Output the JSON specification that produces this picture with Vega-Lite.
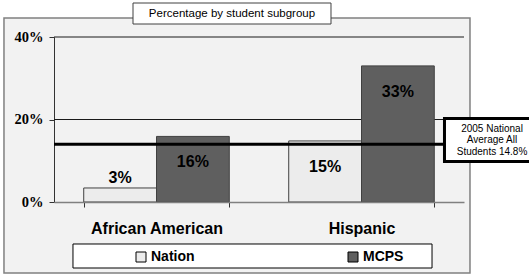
{
  "$schema": "https://vega.github.io/schema/vega-lite/v6.json",
  "width": 410,
  "height": 165,
  "autosize": {"type": "none"},
  "padding": {"left": 54, "top": 37, "right": 65, "bottom": 73},
  "background": "#f2f2f2",
  "config": {
    "view": {"stroke": null},
    "font": "Liberation Sans",
    "axisY": {
      "labelFont": "Liberation Serif", "labelFontSize": 14.5, "labelFontWeight": "bold", "labelColor": "black",
      "labelPadding": 6, "tickSize": 5, "tickColor": "#333333", "domainColor": "#333333", "grid": false, "zindex": 1
    }
  },
  "data": {
    "values": [
      {"group": "African American", "series": "Nation", "value": 0.034},
      {"group": "African American", "series": "MCPS", "value": 0.159},
      {"group": "Hispanic", "series": "Nation", "value": 0.148},
      {"group": "Hispanic", "series": "MCPS", "value": 0.33}
    ]
  },
  "layer": [
    {
      "data": {"values": [{}]},
      "layer": [
        {
          "mark": {"type": "rect", "fill": "white", "clip": false},
          "encoding": {
            "x": {"datum": -0.2, "type": "quantitative", "scale": {"domain": [0, 1], "nice": false, "zero": false}, "axis": null},
            "x2": {"datum": 1.3},
            "y": {"datum": 0.446, "type": "quantitative", "scale": {"domain": [0, 0.4], "nice": false}, "axis": {"title": null, "values": [0, 0.2, 0.4], "format": ".0%"}},
            "y2": {"datum": 0.6}
          }
        },
        {
          "mark": {"type": "rect", "fill": "white", "clip": false},
          "encoding": {
            "x": {"datum": -0.2, "type": "quantitative", "scale": {"domain": [0, 1], "nice": false, "zero": false}, "axis": null},
            "x2": {"datum": 1.3},
            "y": {"datum": -0.1721, "type": "quantitative", "scale": {"domain": [0, 0.4], "nice": false}, "axis": {"title": null, "values": [0, 0.2, 0.4], "format": ".0%"}},
            "y2": {"datum": -0.3}
          }
        },
        {
          "mark": {"type": "rect", "fill": "white", "clip": false},
          "encoding": {
            "x": {"datum": -0.2, "type": "quantitative", "scale": {"domain": [0, 1], "nice": false, "zero": false}, "axis": null},
            "x2": {"datum": -0.122},
            "y": {"datum": -0.3, "type": "quantitative", "scale": {"domain": [0, 0.4], "nice": false}, "axis": {"title": null, "values": [0, 0.2, 0.4], "format": ".0%"}},
            "y2": {"datum": 0.6}
          }
        },
        {
          "mark": {"type": "rect", "fill": "white", "clip": false},
          "encoding": {
            "x": {"datum": 1.0146, "type": "quantitative", "scale": {"domain": [0, 1], "nice": false, "zero": false}, "axis": null},
            "x2": {"datum": 1.3},
            "y": {"datum": -0.3, "type": "quantitative", "scale": {"domain": [0, 0.4], "nice": false}, "axis": {"title": null, "values": [0, 0.2, 0.4], "format": ".0%"}},
            "y2": {"datum": 0.6}
          }
        },
        {
          "mark": {"type": "rect", "filled": false, "stroke": "#808080", "strokeWidth": 1.5, "clip": false},
          "encoding": {
            "x": {"datum": -0.122, "type": "quantitative", "scale": {"domain": [0, 1], "nice": false, "zero": false}, "axis": null},
            "x2": {"datum": 1.0146},
            "y": {"datum": 0.446, "type": "quantitative", "scale": {"domain": [0, 0.4], "nice": false}, "axis": {"title": null, "values": [0, 0.2, 0.4], "format": ".0%"}},
            "y2": {"datum": -0.1721}
          }
        },
        {
          "mark": {"type": "rule", "color": "#1a1a1a", "strokeWidth": 1},
          "encoding": {
            "y": {"datum": 0.2, "type": "quantitative", "scale": {"domain": [0, 0.4], "nice": false}, "axis": {"title": null, "values": [0, 0.2, 0.4], "format": ".0%"}}
          }
        },
        {
          "mark": {"type": "rule", "color": "#1a1a1a", "strokeWidth": 1},
          "encoding": {
            "y": {"datum": 0.4, "type": "quantitative", "scale": {"domain": [0, 0.4], "nice": false}, "axis": {"title": null, "values": [0, 0.2, 0.4], "format": ".0%"}}
          }
        },
        {
          "mark": {"type": "rect", "fill": "white", "stroke": "#404040", "strokeWidth": 1, "clip": false},
          "encoding": {
            "x": {"datum": 0.1927, "type": "quantitative", "scale": {"domain": [0, 1], "nice": false, "zero": false}, "axis": null},
            "x2": {"datum": 0.6756},
            "y": {"datum": 0.4824, "type": "quantitative", "scale": {"domain": [0, 0.4], "nice": false}, "axis": {"title": null, "values": [0, 0.2, 0.4], "format": ".0%"}},
            "y2": {"datum": 0.4315}
          }
        },
        {
          "mark": {"type": "text", "text": "Percentage by student subgroup", "fontSize": 11.5, "font": "Liberation Sans", "color": "black", "align": "center", "baseline": "middle", "clip": false},
          "encoding": {
            "x": {"datum": 0.4341, "type": "quantitative", "scale": {"domain": [0, 1], "nice": false, "zero": false}, "axis": null},
            "y": {"datum": 0.4565, "type": "quantitative", "scale": {"domain": [0, 0.4], "nice": false}, "axis": {"title": null, "values": [0, 0.2, 0.4], "format": ".0%"}}
          }
        },
        {
          "mark": {"type": "rect", "fill": "white", "stroke": "black", "strokeWidth": 1, "clip": false},
          "encoding": {
            "x": {"datum": 0.0463, "type": "quantitative", "scale": {"domain": [0, 1], "nice": false, "zero": false}, "axis": null},
            "x2": {"datum": 0.922},
            "y": {"datum": -0.1018, "type": "quantitative", "scale": {"domain": [0, 0.4], "nice": false}, "axis": {"title": null, "values": [0, 0.2, 0.4], "format": ".0%"}},
            "y2": {"datum": -0.16}
          }
        }
      ]
    },
    {
      "encoding": {
        "x": {
          "field": "group", "type": "nominal", "sort": ["African American", "Hispanic"],
          "scale": {"paddingInner": 0.29, "paddingOuter": 0.145},
          "axis": {
            "title": null, "labelAngle": 0, "labelFont": "Liberation Sans", "labelFontSize": 16, "labelFontWeight": "bold",
            "labelColor": "black", "labelPadding": 13, "tickBand": "extent", "tickColor": "#333333", "tickSize": 5,
            "domainColor": "#808080", "domainWidth": 1.5, "zindex": 1
          }
        },
        "xOffset": {"field": "series", "type": "nominal", "sort": ["Nation", "MCPS"], "scale": {"paddingInner": 0, "paddingOuter": 0}},
        "y": {
          "field": "value", "type": "quantitative",
          "scale": {"domain": [0, 0.4], "nice": false},
          "axis": {"title": null, "values": [0, 0.2, 0.4], "format": ".0%"}
        }
      },
      "layer": [
        {
          "mark": {"type": "bar", "stroke": "#404040", "strokeWidth": 1},
          "encoding": {
            "color": {
              "field": "series", "type": "nominal",
              "scale": {"domain": ["Nation", "MCPS"], "range": ["#ececec", "#5f5f5f"]},
              "legend": {
                "orient": "none", "legendX": 80, "legendY": 213, "direction": "horizontal", "title": null,
                "symbolType": "square", "symbolSize": 100, "symbolStrokeColor": "black", "symbolStrokeWidth": 1,
                "labelFont": "Liberation Sans", "labelFontSize": 14, "labelFontWeight": "bold", "labelColor": "black",
                "labelOffset": 3, "columnPadding": 151, "padding": 0, "zindex": 1
              }
            }
          }
        },
        {
          "transform": [{"filter": "datum.value < 0.08"}],
          "mark": {"type": "text", "font": "Liberation Sans", "fontSize": 16, "fontWeight": "bold", "color": "black", "baseline": "alphabetic", "dy": -4.5},
          "encoding": {"text": {"field": "value", "type": "quantitative", "format": ".0%"}}
        },
        {
          "transform": [{"filter": "datum.value >= 0.08"}],
          "mark": {"type": "text", "font": "Liberation Sans", "fontSize": 16, "fontWeight": "bold", "color": "black", "baseline": "alphabetic", "dy": 31},
          "encoding": {"text": {"field": "value", "type": "quantitative", "format": ".0%"}}
        }
      ]
    },
    {
      "data": {"values": [{}]},
      "layer": [
        {
          "mark": {"type": "rule", "color": "black", "strokeWidth": 3},
          "encoding": {
            "y": {"datum": 0.14, "type": "quantitative", "scale": {"domain": [0, 0.4], "nice": false}, "axis": {"title": null, "values": [0, 0.2, 0.4], "format": ".0%"}}
          }
        },
        {
          "mark": {"type": "rect", "fill": "white", "stroke": "black", "strokeWidth": 3, "clip": false},
          "encoding": {
            "x": {"datum": 0.9524, "type": "quantitative", "scale": {"domain": [0, 1], "nice": false, "zero": false}, "axis": null},
            "x2": {"datum": 1.2},
            "y": {"datum": 0.2024, "type": "quantitative", "scale": {"domain": [0, 0.4], "nice": false}, "axis": {"title": null, "values": [0, 0.2, 0.4], "format": ".0%"}},
            "y2": {"datum": 0.0982}
          }
        },
        {
          "mark": {"type": "text", "text": ["2005 National", "Average All", "Students 14.8%"], "font": "Liberation Sans", "fontSize": 10, "lineHeight": 11.5, "color": "black", "align": "center", "baseline": "middle", "clip": false},
          "encoding": {
            "x": {"datum": 1.0683, "type": "quantitative", "scale": {"domain": [0, 1], "nice": false, "zero": false}, "axis": null},
            "y": {"datum": 0.177, "type": "quantitative", "scale": {"domain": [0, 0.4], "nice": false}, "axis": {"title": null, "values": [0, 0.2, 0.4], "format": ".0%"}}
          }
        }
      ]
    }
  ],
  "resolve": {"scale": {"x": "independent"}}
}
